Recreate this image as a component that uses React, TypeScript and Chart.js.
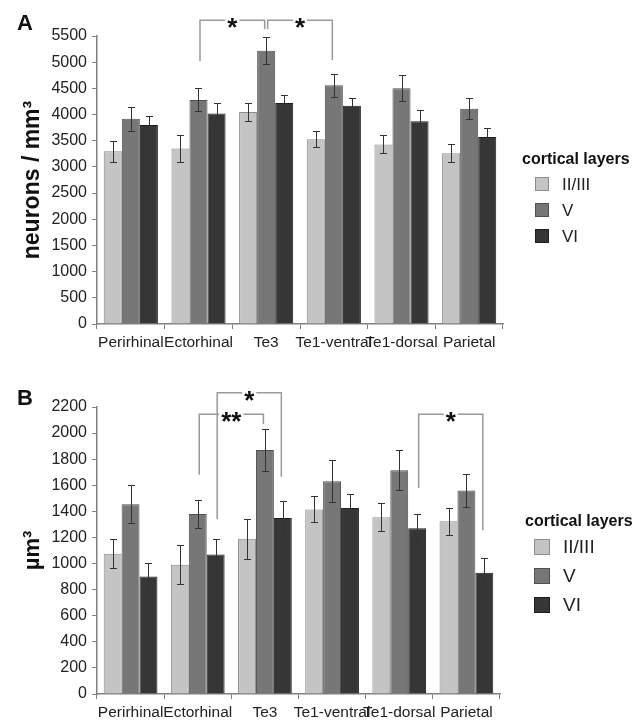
import React, { useEffect, useRef } from "react";
import { Chart, registerables } from "chart.js";

Chart.register(...registerables);

// ---------- data ----------
const categories = ["Perirhinal", "Ectorhinal", "Te3", "Te1-ventral", "Te1-dorsal", "Parietal"];
const layerLabels = ["II/III", "V", "VI"];
const legendTitle = "cortical layers";

// Panel A: neurons / mm³
const densityII = [3300, 3350, 4050, 3530, 3430, 3260];
const densityV = [3920, 4280, 5220, 4560, 4500, 4110];
const densityVI = [3800, 4020, 4220, 4170, 3870, 3570];
const densityErrII = [200, 250, 180, 150, 170, 170];
const densityErrV = [230, 220, 260, 220, 250, 200];
const densityErrVI = [170, 200, 150, 140, 210, 180];
const densityMax = 5500;
const densityStep = 500;
// brackets: [categoryIndex, layerIndex] endpoints, leg-end values, bracket level
const densityBrackets = [
  { label: "*", from: [1, 1], to: [2, 1], fromEnd: 5020, toEnd: 5630, level: 5800 },
  { label: "*", from: [2, 1], to: [3, 1], fromEnd: 5630, toEnd: 5040, level: 5800 },
];

// Panel B: µm³
const volumeII = [1075, 990, 1190, 1415, 1355, 1325];
const volumeV = [1455, 1380, 1870, 1630, 1715, 1560];
const volumeVI = [900, 1070, 1350, 1425, 1270, 930];
const volumeErrII = [110, 150, 155, 100, 107, 103];
const volumeErrV = [145, 105, 160, 160, 155, 125];
const volumeErrVI = [105, 115, 128, 110, 110, 115];
const volumeMax = 2200;
const volumeStep = 200;
const volumeBrackets = [
  { label: "**", from: [1, 1], to: [2, 1], fromEnd: 1680, toEnd: 2070, level: 2145 },
  { label: "*", from: [1, 2], to: [2, 2], fromEnd: 1340, toEnd: 1665, level: 2310 },
  { label: "*", from: [4, 2], to: [5, 2], fromEnd: 1580, toEnd: 1255, level: 2145 },
];

// ---------- style ----------
const FONT = '"Liberation Sans", Arial, sans-serif';
const fills = ["#c4c4c4", "#777777", "#363636"];
const borders = ["#8c8c8c", "#505050", "#1e1e1e"];
const axisColor = "#808080";
const textColor = "#222222";

const overlayPlugin = {
  id: "overlay",
  afterDatasetsDraw(chart: any, _args: any, opts: any) {
    const ctx = chart.ctx;
    const ys = chart.scales.y;
    ctx.save();
    ctx.strokeStyle = "#333333";
    ctx.lineWidth = 1;
    opts.errors.forEach((errs: number[], di: number) => {
      const meta = chart.getDatasetMeta(di);
      meta.data.forEach((bar: any, j: number) => {
        const v = chart.data.datasets[di].data[j];
        const e = errs[j];
        const x = Math.round(bar.x) + 0.5;
        const yt = Math.round(ys.getPixelForValue(v + e)) + 0.5;
        const yb = Math.round(ys.getPixelForValue(v - e)) + 0.5;
        ctx.beginPath();
        ctx.moveTo(x, yt);
        ctx.lineTo(x, yb);
        ctx.moveTo(x - 3.5, yt);
        ctx.lineTo(x + 3.5, yt);
        ctx.moveTo(x - 3.5, yb);
        ctx.lineTo(x + 3.5, yb);
        ctx.stroke();
      });
    });
    ctx.restore();
  },
  afterDraw(chart: any, _args: any, opts: any) {
    const ctx = chart.ctx;
    const ys = chart.scales.y;
    const area = chart.chartArea;
    ctx.save();

    // significance brackets
    const sz = opts.starSize;
    ctx.font = `bold ${sz}px ${FONT}`;
    opts.brackets.forEach((b: any) => {
      const x1 = chart.getDatasetMeta(b.from[1]).data[b.from[0]].x + 1.5;
      const x2 = chart.getDatasetMeta(b.to[1]).data[b.to[0]].x - 1.5;
      const yl = ys.getPixelForValue(b.level);
      const y1 = ys.getPixelForValue(b.fromEnd);
      const y2 = ys.getPixelForValue(b.toEnd);
      const xm = (x1 + x2) / 2;
      const gap = ctx.measureText(b.label).width / 2 + 2;
      ctx.strokeStyle = "#9a9a9a";
      ctx.lineWidth = 1.5;
      ctx.beginPath();
      ctx.moveTo(x1, y1);
      ctx.lineTo(x1, yl);
      ctx.lineTo(xm - gap, yl);
      ctx.moveTo(xm + gap, yl);
      ctx.lineTo(x2, yl);
      ctx.lineTo(x2, y2);
      ctx.stroke();
      ctx.fillStyle = "#111111";
      ctx.textAlign = "center";
      ctx.textBaseline = "alphabetic";
      ctx.fillText(b.label, xm, yl + 0.62 * sz);
    });

    // panel letter
    ctx.fillStyle = "#111111";
    ctx.font = `bold 22px ${FONT}`;
    ctx.textAlign = "left";
    ctx.textBaseline = "alphabetic";
    ctx.fillText(opts.letter, 17, opts.letterY);

    // y axis title
    ctx.save();
    ctx.translate(opts.titleX, (area.top + area.bottom) / 2);
    ctx.rotate(-Math.PI / 2);
    ctx.font = `bold ${opts.titleSize}px ${FONT}`;
    ctx.textAlign = "center";
    ctx.textBaseline = "alphabetic";
    ctx.fillText(opts.yTitle, 0, 0);
    ctx.restore();

    // legend
    const lg = opts.legend;
    ctx.font = `bold 16px ${FONT}`;
    ctx.textAlign = "left";
    ctx.textBaseline = "middle";
    ctx.fillStyle = "#111111";
    ctx.fillText(legendTitle, lg.titleX, lg.titleY);
    chart.data.datasets.forEach((ds: any, i: number) => {
      const cy = lg.firstY + i * lg.spacing;
      ctx.fillStyle = ds.backgroundColor;
      ctx.fillRect(lg.boxX, cy - lg.box / 2, lg.box, lg.box);
      ctx.strokeStyle = ds.borderColor;
      ctx.lineWidth = 1;
      ctx.strokeRect(lg.boxX + 0.5, cy - lg.box / 2 + 0.5, lg.box - 1, lg.box - 1);
      ctx.fillStyle = textColor;
      ctx.font = `${lg.itemSize}px ${FONT}`;
      ctx.fillText(ds.label, lg.textX, cy + 1);
    });
    ctx.restore();
  },
};

function makeConfig(values: number[][], errors: number[][], max: number, step: number, p: any) {
  return {
    type: "bar",
    data: {
      labels: categories,
      datasets: layerLabels.map((l, i) => ({
        label: l,
        data: values[i],
        backgroundColor: fills[i],
        borderColor: borders[i],
        borderWidth: 1,
        categoryPercentage: 0.8,
        barPercentage: 1.0,
      })),
    },
    options: {
      responsive: true,
      maintainAspectRatio: false,
      animation: false,
      events: [],
      layout: { padding: { top: p.padTop, right: p.padRight, bottom: 0, left: 0 } },
      plugins: {
        legend: { display: false },
        tooltip: { enabled: false },
        overlay: {
          errors,
          brackets: p.brackets,
          starSize: 26,
          letter: p.letter,
          letterY: p.letterY,
          yTitle: p.yTitle,
          titleX: p.titleX,
          titleSize: p.titleSize,
          legend: p.legend,
        },
      },
      scales: {
        x: {
          grid: { display: true, drawOnChartArea: false, drawTicks: true, tickLength: 5, color: axisColor, offset: true },
          border: { color: axisColor, width: 1.5 },
          ticks: { font: { family: FONT, size: 15.5 }, color: textColor, padding: 4, maxRotation: 0, autoSkip: false },
          afterFit: (s: any) => {
            s.height = p.xHeight;
          },
        },
        y: {
          min: 0,
          max,
          ticks: {
            stepSize: step,
            font: { family: FONT, size: 16 },
            color: textColor,
            padding: 5,
            callback: (v: any) => String(v),
          },
          grid: { display: true, drawOnChartArea: false, drawTicks: true, tickLength: 5, color: axisColor },
          border: { color: axisColor, width: 1.5 },
          afterFit: (s: any) => {
            s.width = 97;
          },
        },
      },
    },
    plugins: [overlayPlugin],
  } as any;
}

function Panel({ build, top, height }: { build: () => any; top: number; height: number }) {
  const ref = useRef<HTMLCanvasElement>(null);
  useEffect(() => {
    const chart = new Chart(ref.current as HTMLCanvasElement, build());
    return () => chart.destroy();
  }, []);
  return (
    <div style={{ position: "absolute", left: 0, top, width: 643, height }}>
      <canvas ref={ref} />
    </div>
  );
}

export default function App() {
  const buildA = () =>
    makeConfig(
      [densityII, densityV, densityVI],
      [densityErrII, densityErrV, densityErrVI],
      densityMax,
      densityStep,
      {
        padTop: 36,
        padRight: 140,
        xHeight: 31,
        brackets: densityBrackets,
        letter: "A",
        letterY: 30,
        yTitle: "neurons / mm\u00B3",
        titleX: 38.5,
        titleSize: 23,
        legend: { titleX: 522, titleY: 160, boxX: 535, box: 14, textX: 562, firstY: 184, spacing: 26, itemSize: 17 },
      }
    );
  const buildB = () =>
    makeConfig(
      [volumeII, volumeV, volumeVI],
      [volumeErrII, volumeErrV, volumeErrVI],
      volumeMax,
      volumeStep,
      {
        padTop: 52,
        padRight: 143,
        xHeight: 26,
        brackets: volumeBrackets,
        letter: "B",
        letterY: 50,
        yTitle: "\u00B5m\u00B3",
        titleX: 38.5,
        titleSize: 22,
        legend: { titleX: 525, titleY: 167, boxX: 534, box: 16, textX: 563, firstY: 192, spacing: 29, itemSize: 19 },
      }
    );
  return (
    <div style={{ position: "absolute", left: 0, top: 0, width: 643, height: 720, background: "#ffffff" }}>
      <Panel build={buildA} top={0} height={355} />
      <Panel build={buildB} top={355} height={365} />
    </div>
  );
}
